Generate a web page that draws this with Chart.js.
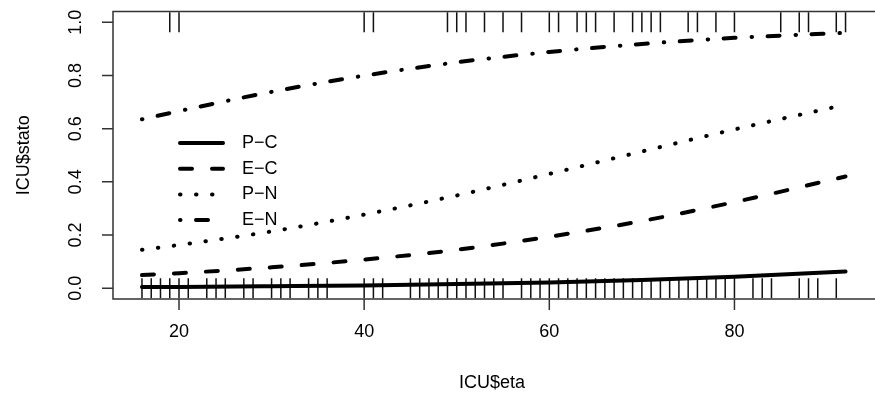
<!DOCTYPE html>
<html>
<head>
<meta charset="utf-8">
<script src="https://cdn.jsdelivr.net/npm/chart.js@4"></script>
<style>
  html, body { margin: 0; padding: 0; background: #fff; }
  canvas { display: block; }
</style>
</head>
<body>
<canvas id="chart" width="875" height="407"></canvas>
<script>
// fitted curves, at a few ages
const ageGrid = [16, 20, 30, 40, 50, 60, 70, 80, 92];
const curvePC = [0.005, 0.0055, 0.008, 0.011, 0.016, 0.022, 0.031, 0.044, 0.063];
const curveEC = [0.050, 0.057, 0.079, 0.108, 0.145, 0.194, 0.253, 0.324, 0.420];
const curvePN = [0.145, 0.163, 0.214, 0.277, 0.349, 0.430, 0.514, 0.597, 0.690];
const curveEN = [0.635, 0.666, 0.738, 0.799, 0.849, 0.888, 0.918, 0.941, 0.960];

// observed ages (stato = 0 at the bottom, stato = 1 at the top)
const agesStato0 = [16, 17, 18, 19, 20, 21, 23, 24, 25, 27, 28, 30, 31, 32, 34, 35, 36, 40, 41, 42,
  45, 46, 47, 48, 49, 50, 51, 52, 53, 54, 55, 57, 58, 59, 60, 61, 62, 63, 64, 65, 66, 67, 68, 69,
  70, 71, 72, 73, 74, 75, 76, 77, 78, 79, 80, 82, 83, 84, 87, 88, 89, 91];
const agesStato1 = [19, 20, 40, 41, 49, 50, 51, 53, 55, 57, 60, 61, 63, 64, 65, 67, 69, 70, 71, 72,
  75, 76, 78, 80, 85, 87, 88, 91, 92];

const xTicks = [20, 40, 60, 80];
const yTicks = [0, 0.2, 0.4, 0.6, 0.8, 1.0];
const yTickLabels = ['0.0', '0.2', '0.4', '0.6', '0.8', '1.0'];
const legendLabels = ['P\u2212C', 'E\u2212C', 'P\u2212N', 'E\u2212N'];

const FONT = '18px "Liberation Sans", Arial, sans-serif';

const toPoints = (ys) => ageGrid.map((a, i) => ({ x: a, y: ys[i] }));
const rugPoints = (ages, y) => ages.map((a) => ({ x: a, y: y }));

const styles = [
  { dash: [] },
  { dash: [12, 20] },
  { dash: [0.5, 15.5] },
  { dash: [0.5, 15.5, 12, 16] }
];

const curveSet = (label, ys, dash) => ({
  type: 'line',
  label: label,
  data: toPoints(ys),
  borderColor: '#000',
  borderWidth: 4,
  borderDash: dash,
  borderCapStyle: 'round',
  pointRadius: 0,
  fill: false,
  cubicInterpolationMode: 'monotone'
});

const rugSet = (ages, y) => ({
  type: 'scatter',
  data: rugPoints(ages, y),
  pointStyle: 'line',
  rotation: 90,
  radius: 10,
  borderColor: '#111',
  borderWidth: 1.5,
  showLine: false
});

// axes, box, titles and legend drawn like base R graphics
const rAxes = {
  id: 'rAxes',
  afterDraw(chart) {
    const { ctx, chartArea: area, scales } = chart;
    const xs = scales.x, ys = scales.y;
    ctx.save();
    ctx.strokeStyle = '#333';
    ctx.lineWidth = 1.5;
    ctx.beginPath();
    ctx.moveTo(chart.width + 5, area.top);
    ctx.lineTo(area.left, area.top);
    ctx.lineTo(area.left, area.bottom);
    ctx.lineTo(chart.width + 5, area.bottom);
    ctx.stroke();

    ctx.fillStyle = '#000';
    ctx.font = FONT;
    ctx.textAlign = 'center';
    ctx.textBaseline = 'middle';

    // x axis
    ctx.beginPath();
    xTicks.forEach((t) => {
      const px = xs.getPixelForValue(t);
      ctx.moveTo(px, area.bottom);
      ctx.lineTo(px, area.bottom + 11);
    });
    ctx.stroke();
    xTicks.forEach((t) => {
      ctx.fillText(String(t), xs.getPixelForValue(t), area.bottom + 33);
    });
    ctx.fillText('ICU$eta', 492, area.bottom + 84);

    // y axis
    ctx.beginPath();
    yTicks.forEach((t) => {
      const py = ys.getPixelForValue(t);
      ctx.moveTo(area.left, py);
      ctx.lineTo(area.left - 11, py);
    });
    ctx.stroke();
    yTicks.forEach((t, i) => {
      ctx.save();
      ctx.translate(area.left - 37, ys.getPixelForValue(t));
      ctx.rotate(-Math.PI / 2);
      ctx.fillText(yTickLabels[i], 0, 0);
      ctx.restore();
    });
    ctx.save();
    ctx.translate(24, (area.top + area.bottom) / 2);
    ctx.rotate(-Math.PI / 2);
    ctx.fillText('ICU$stato', 0, 0);
    ctx.restore();

    // legend (no box)
    ctx.textAlign = 'left';
    ctx.strokeStyle = '#000';
    ctx.lineWidth = 4;
    ctx.lineCap = 'round';
    legendLabels.forEach((lab, i) => {
      const y = 143 + i * 25.7;
      ctx.setLineDash(styles[i].dash);
      ctx.beginPath();
      ctx.moveTo(180, y);
      ctx.lineTo(223, y);
      ctx.stroke();
      ctx.fillText(lab, 242, y);
    });
    ctx.restore();
  }
};

new Chart(document.getElementById('chart'), {
  data: {
    datasets: [
      curveSet('P\u2212C', curvePC, styles[0].dash),
      curveSet('E\u2212C', curveEC, styles[1].dash),
      curveSet('P\u2212N', curvePN, styles[2].dash),
      curveSet('E\u2212N', curveEN, styles[3].dash),
      rugSet(agesStato0, 0),
      rugSet(agesStato1, 1)
    ]
  },
  options: {
    responsive: false,
    animation: false,
    devicePixelRatio: 1,
    events: [],
    layout: { padding: { left: 113, right: 0, top: 11, bottom: 108 } },
    plugins: { legend: { display: false }, tooltip: { enabled: false } },
    scales: {
      x: { type: 'linear', min: 12.87, max: 93.94, display: false },
      y: { type: 'linear', min: -0.04, max: 1.04, display: false }
    }
  },
  plugins: [rAxes]
});
</script>
</body>
</html>
